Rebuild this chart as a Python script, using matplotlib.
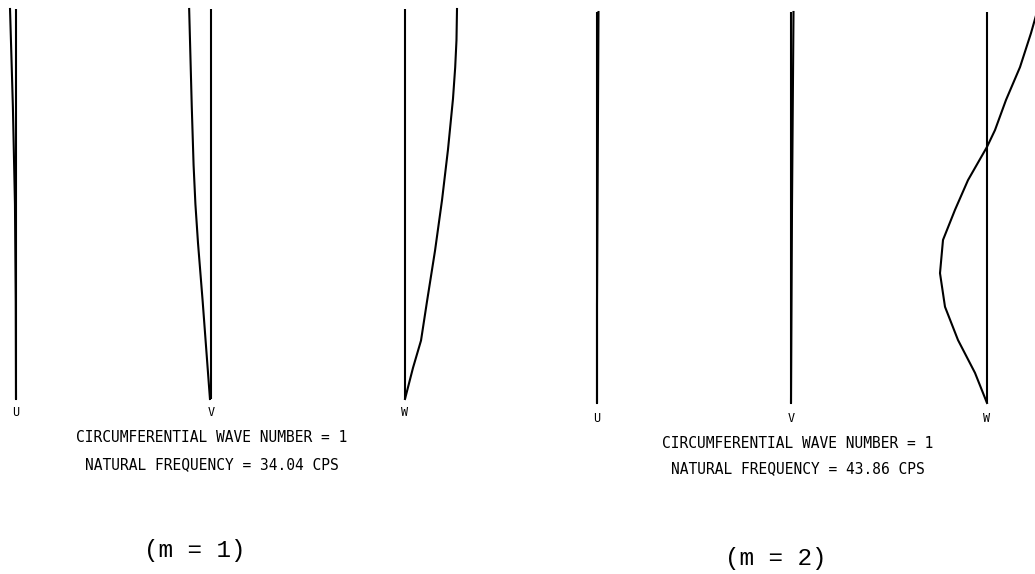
import numpy as np
import matplotlib.pyplot as plt

## mode shapes of a cylindrical shell, m = 1 and m = 2
# s: station along the shell, 0 at the bottom, 1 at the top
# deflections normalized to the largest W deflection

s_uv = [0.0, 0.25, 0.5, 0.75, 1.0]

# m = 1
s_v1 = [0.0, 0.25, 0.4, 0.5, 0.6, 0.75, 1.0]
s_w1 = [0.0, 0.08, 0.15, 0.25, 0.38, 0.51, 0.64, 0.77, 0.85, 0.92, 1.0]
u_m1 = [0.0, -0.005, -0.02, -0.06, -0.115]
v_m1 = [-0.02, -0.16, -0.25, -0.30, -0.335, -0.37, -0.42]
w_m1 = [0.0, 0.154, 0.308, 0.423, 0.577, 0.712, 0.827, 0.923, 0.965, 0.99, 1.0]

# m = 2
s_w2 = [0.0, 0.077, 0.161, 0.246, 0.332, 0.417, 0.494, 0.570, 0.655, 0.698,
        0.775, 0.859, 0.946, 1.0]
u_m2 = [0.0, 0.0, 0.01, 0.02, 0.03]
v_m2 = [0.0, 0.01, 0.02, 0.035, 0.05]
w_m2 = [0.0, -0.24, -0.58, -0.84, -0.94, -0.88, -0.64, -0.38, 0.0, 0.16,
        0.38, 0.66, 0.88, 1.0]

labels = ['U', 'V', 'W']
wave_number = [1, 1]
frequency = ['34.04', '43.86']
m_values = [1, 2]

# layout of the two panels (pixels)
panels = [
    dict(x0=[16, 211, 405], ybot=399, ytop=9, amp=52, ylab=413,
         ytxt=[438, 465], xtxt=212, xm=195, ym=550,
         data=[(s_uv, u_m1), (s_v1, v_m1), (s_w1, w_m1)]),
    dict(x0=[597, 791, 987], ybot=403, ytop=12, amp=50, ylab=418,
         ytxt=[443, 469], xtxt=798, xm=776, ym=558,
         data=[(s_uv, u_m2), (s_uv, v_m2), (s_w2, w_m2)]),
]

fig = plt.figure(figsize=(10.35, 5.74), dpi=100)
ax = fig.add_axes([0, 0, 1, 1])
ax.set_xlim(0, 1035)
ax.set_ylim(574, 0)
ax.axis('off')

plotter = 'DejaVu Sans Mono'
lw = 1.5

for k, p in enumerate(panels):
    for i in range(3):
        x0 = p['x0'][i]
        s, d = p['data'][i]
        s = np.array(s)
        d = np.array(d)
        y = p['ybot'] - s * (p['ybot'] - p['ytop'])
        # undeformed reference line
        ax.plot([x0, x0], [p['ybot'], p['ytop']], color='black', lw=lw,
                solid_capstyle='butt')
        # deflected shape
        ax.plot(x0 + p['amp'] * d, y, color='black', lw=lw)
        ax.text(x0, p['ylab'], labels[i], ha='center', va='center',
                fontsize=8.5, family=plotter)
    ax.text(p['xtxt'], p['ytxt'][0],
            'CIRCUMFERENTIAL WAVE NUMBER = %d' % wave_number[k],
            ha='center', va='center', fontsize=10.5, family=plotter)
    ax.text(p['xtxt'], p['ytxt'][1],
            'NATURAL FREQUENCY = %s CPS' % frequency[k],
            ha='center', va='center', fontsize=10.5, family=plotter)
    ax.text(p['xm'], p['ym'], '(m = %d)' % m_values[k],
            ha='center', va='center', fontsize=17.5, family='Liberation Mono')

fig.savefig('out.png', dpi=100)
